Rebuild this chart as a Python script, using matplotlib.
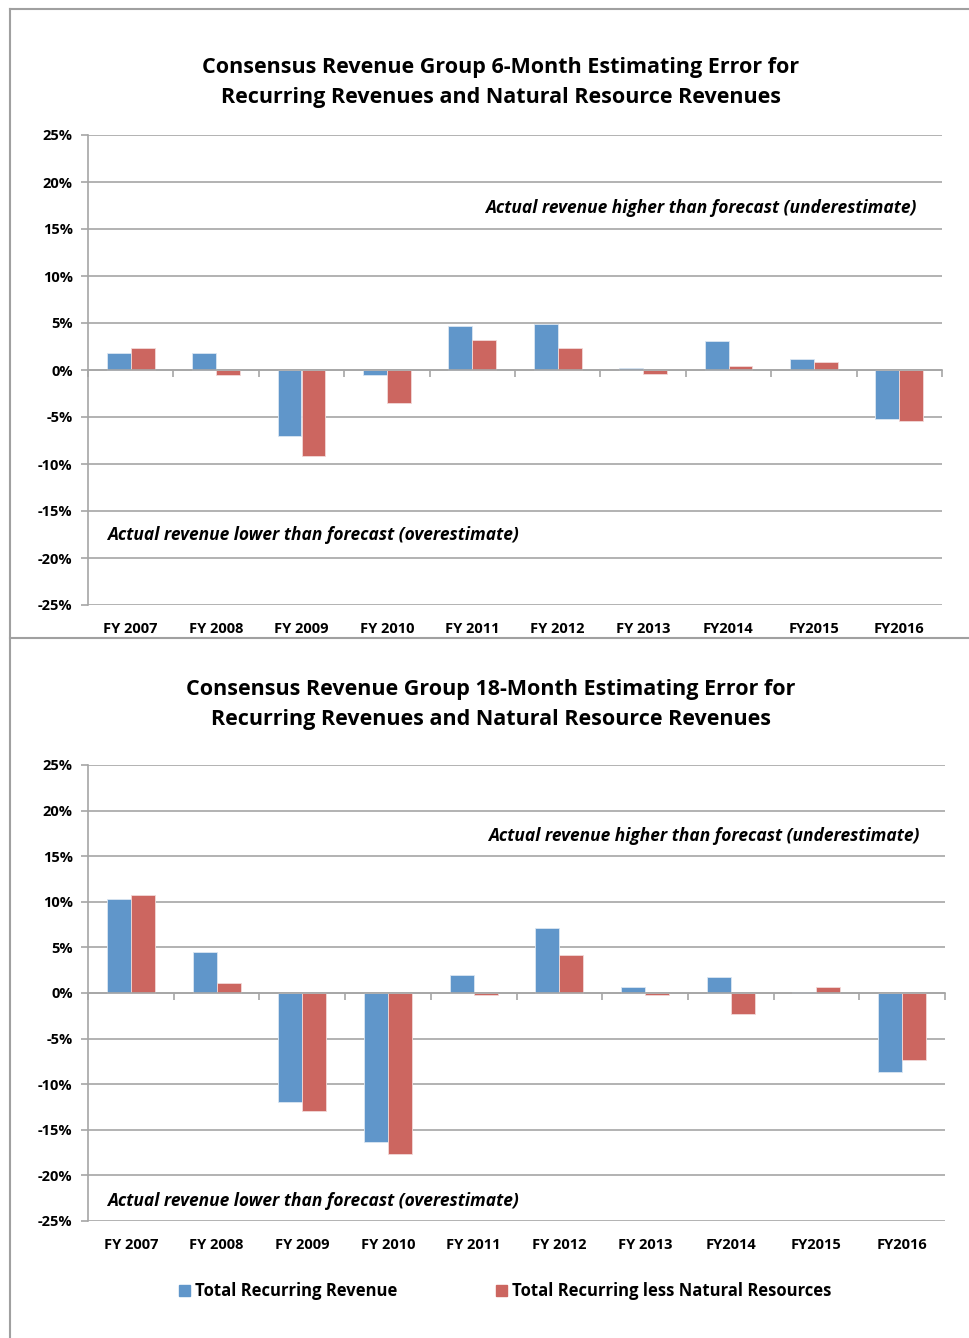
import numpy as np
import matplotlib.pyplot as plt
from matplotlib.lines import Line2D
from matplotlib.patches import Patch

plt.rcParams['font.family'] = ['Open Sans', 'DejaVu Sans']

# Data
years = ['FY 2007', 'FY 2008', 'FY 2009', 'FY 2010', 'FY 2011',
         'FY 2012', 'FY 2013', 'FY2014', 'FY2015', 'FY2016']
six_total = [1.8, 1.8, -7.0, -0.5, 4.7, 4.9, 0.2, 3.1, 1.2, -5.2]
six_less_nr = [2.3, -0.5, -9.1, -3.5, 3.2, 2.3, -0.4, 0.4, 0.8, -5.4]
eighteen_total = [10.3, 4.5, -12.0, -16.3, 2.0, 7.1, 0.7, 1.7, 0.1, -8.7]
eighteen_less_nr = [10.7, 1.1, -12.9, -17.7, -0.2, 4.2, -0.2, -2.3, 0.7, -7.4]

titles = ['Consensus Revenue Group 6-Month Estimating Error for\n'
          'Recurring Revenues and Natural Resource Revenues',
          'Consensus Revenue Group 18-Month Estimating Error for\n'
          'Recurring Revenues and Natural Resource Revenues']
legend_labels = ['Total Recurring Revenue', 'Total Recurring less Natural Resources']
note_high = 'Actual revenue higher than forecast (underestimate)'
note_low = 'Actual revenue lower than forecast (overestimate)'

BLUE = '#6096ca'
RED = '#cc6660'
GRID = '#a6a6a6'

W, H = 969, 1338
fig = plt.figure(figsize=(W / 100, H / 100), dpi=100)


def px_axes(x0, y0, x1, y1):
    return fig.add_axes([x0 / W, 1 - y1 / H, (x1 - x0) / W, (y1 - y0) / H])


def draw_chart(ax, s1, s2, low_y):
    x = np.arange(len(years))
    bw = 0.28
    ax.bar(x - bw / 2, s1, bw, color=BLUE, edgecolor='#dbe6f2', linewidth=0.6, zorder=3)
    ax.bar(x + bw / 2, s2, bw, color=RED, edgecolor='#f2d9d8', linewidth=0.6, zorder=3)
    ax.set_xlim(-0.5, len(years) - 0.5)
    ax.set_ylim(-25, 25)
    ax.set_yticks(np.arange(-25, 26, 5))
    ax.set_yticklabels([f'{v}%' for v in range(-25, 26, 5)], fontsize=10.5, fontweight='bold')
    ax.yaxis.grid(True, color=GRID, linewidth=1.2, zorder=0)
    ax.tick_params(axis='y', length=5, color=GRID, width=1.2, pad=6)
    for s in ['top', 'right']:
        ax.spines[s].set_visible(False)
    ax.spines['left'].set_color(GRID)
    ax.spines['left'].set_linewidth(1.2)
    # zero axis with category boundary ticks
    ax.spines['bottom'].set_position(('data', 0))
    ax.spines['bottom'].set_color(GRID)
    ax.spines['bottom'].set_linewidth(1.2)
    ax.spines['bottom'].set_zorder(4)
    ax.set_xticks(np.arange(-0.5, len(years), 1.0))
    ax.set_xticklabels([])
    ax.tick_params(axis='x', length=5, color=GRID, width=1.2, direction='out')
    sec = ax.secondary_xaxis(0)
    sec.set_xticks(x)
    sec.set_xticklabels(years, fontsize=10.5, fontweight='bold')
    sec.tick_params(length=0, pad=12)
    sec.spines['bottom'].set_visible(False)
    ax.text(len(years) - 0.8, 17.2, note_high, ha='right', va='center',
            fontsize=12.5, fontstyle='italic', fontweight='bold')
    ax.text(-0.28, low_y, note_low, ha='left', va='center',
            fontsize=12.5, fontstyle='italic', fontweight='bold')


ax1 = px_axes(88, 135, 942, 605)
draw_chart(ax1, six_total, six_less_nr, -17.5)
ax2 = px_axes(88, 765, 945, 1221)
draw_chart(ax2, eighteen_total, eighteen_less_nr, -22.8)

fig.text(501 / W, 1 - 82.5 / H, titles[0], ha='center', va='center',
         fontsize=15.5, fontweight='bold', linespacing=1.55)
fig.text(491 / W, 1 - 704.5 / H, titles[1], ha='center', va='center',
         fontsize=15.5, fontweight='bold', linespacing=1.55)

handles = [Patch(color=BLUE), Patch(color=RED)]
leg = fig.legend(handles, legend_labels, loc='center', bbox_to_anchor=(505 / W, 1 - 1291 / H),
                 ncol=2, frameon=False, handlelength=0.65, handleheight=0.65,
                 handletextpad=0.3, columnspacing=5.9,
                 prop={'size': 12, 'weight': 'bold'})

# chart borders
for seg in [((10, 969), (8.5, 8.5)), ((10, 10), (8.5, 1338)), ((10, 969), (638, 638))]:
    fig.add_artist(Line2D([p / W for p in seg[0]], [1 - p / H for p in seg[1]],
                          color='#a0a0a0', linewidth=1.5))

fig.savefig('out.png', dpi=100)
